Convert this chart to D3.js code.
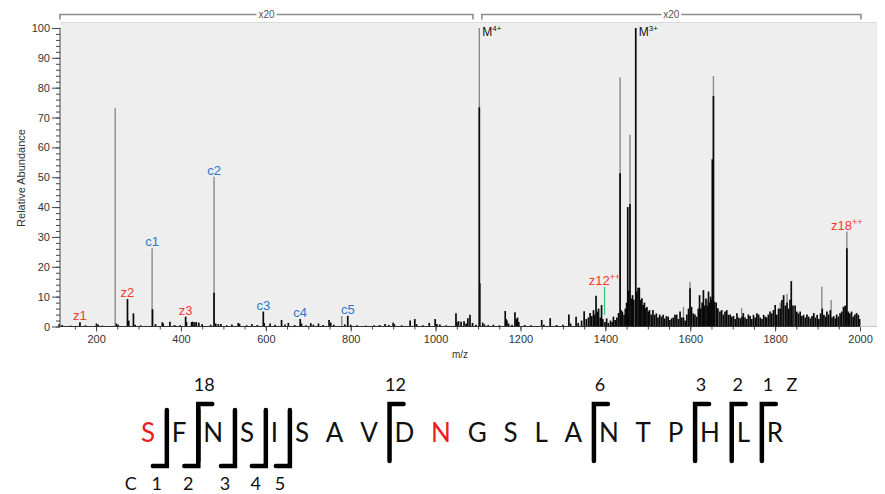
<!DOCTYPE html>
<html><head><meta charset="utf-8">
<script src="https://cdn.jsdelivr.net/npm/d3@7/dist/d3.min.js"></script>
<style>body{margin:0;background:#fff}svg{display:block}</style>
</head><body>
<svg id="c" width="885" height="494"></svg>
<script>
// ---------------- DATA ----------------
// gray-profile peaks [m/z, relative abundance]
const grayPeaks = [
  [245,73.1],[332,26.2],[478,50.2],[779,3.5],[1103,100],[1434.7,83.5],[1458,64.2],
  [1584,6.6],[1599.5,15.0],[1640,9.0],[1721,6.1],[1812,8.0],[1828,11.0],
  [1910,13.3],[1932,8.9],[1963,6.6],[1654.6,83.9],[1969,31.8]
];
// black peaks [m/z, relative abundance]
const blackPeaks = [
  [113,0.8],[120,0.5],[140,0.3],[162,1.4],[175,0.4],[201,1.0],[205,0.6],[215,0.3],[248,1.0],[252,0.6],
  [274,9.2],[277,2.0],[288,4.4],[292,0.6],[305,0.4],[333,5.8],[340,0.8],[356,1.4],[358,1.0],[374,1.6],
  [385,0.5],[398,0.4],[411,3.3],[413,1.5],[425,1.5],[428,1.6],[432,1.4],[436,1.5],[442,1.3],[450,0.8],
  [470,0.6],[478,11.3],[482,1.0],[488,0.8],[494,0.8],[508,0.4],[520,0.7],[535,1.2],[538,0.9],[555,0.4],
  [567,0.8],[580,0.5],[594,5.0],[596,1.2],[610,1.0],[622,0.6],[637,2.2],[645,0.7],[653,1.2],[668,0.5],
  [681,2.5],[684,1.0],[695,0.4],[706,1.1],[712,0.6],[724,1.0],[735,0.5],[749,2.2],[753,1.3],[760,0.6],
  [786,0.7],[793,3.6],[800,0.6],[815,0.4],[835,0.3],[855,0.4],[868,0.5],[881,0.8],[890,0.5],[900,1.3],
  [903,0.7],[920,0.4],[940,2.0],[951,2.5],[955,0.8],[970,0.4],[985,1.2],[999,2.5],[1003,0.8],[1010,0.7],
  [1025,0.4],[1048,4.4],[1050,1.5],[1054,1.8],[1060,1.6],[1067,1.8],[1072,1.0],[1076,2.8],[1081,3.9],[1087,1.2],
  [1095,0.6],[1103,73.4],[1104,14.5],[1111,1.3],[1115,0.7],[1124,0.5],[1136,0.6],[1150,0.4],[1164,5.2],[1166,2.5],
  [1168,2.0],[1172,1.0],[1180,0.6],[1187,4.8],[1190,2.5],[1193,3.0],[1196,1.5],[1210,0.5],[1225,0.4],[1250,2.2],
  [1255,0.6],[1270,2.8],[1285,0.5],[1300,0.6],[1314,4.0],[1318,1.0],[1331,3.3],[1336,1.2],[1344,2.0],[1350,5.1],
  [1355,2.5],[1360,3.0],[1364,4.5],[1368,3.5],[1372,5.5],[1375,4.0],[1378,10.3],[1381,5.0],[1384,6.0],[1388,3.0],
  [1391,7.2],[1394,2.5],[1399,1.5],[1403,2.7],[1407,1.2],[1412,2.0],[1416,1.5],[1419,3.3],[1423,2.2],[1427,3.0],
  [1431,4.5],[1434.7,51.3],[1437,5.5],[1440,5.0],[1444,3.9],[1447,6.0],[1450,8.0],[1452.7,40.0],[1455,12.0],[1458,41.0],
  [1461,9.4],[1464,10.5],[1467,9.0],[1471.6,100],[1474,11.7],[1477,13.0],[1480,13.0],[1483,8.9],[1486,9.5],[1489,7.2],
  [1492,8.0],[1495,6.1],[1498,6.5],[1501,5.0],[1504,5.5],[1508,4.0],[1512,5.5],[1516,3.9],[1520,4.4],[1524,3.0],
  [1528,4.0],[1532,3.3],[1536,3.9],[1540,2.7],[1544,3.5],[1548,3.3],[1552,2.2],[1556,2.7],[1560,3.0],[1564,3.9],
  [1568,4.0],[1572,2.5],[1576,5.0],[1580,3.0],[1584,3.0],[1588,2.0],[1592,4.0],[1596,6.0],[1599.5,12.8],[1603,6.6],
  [1607,4.4],[1611,4.0],[1615,3.3],[1619,6.0],[1622,10.5],[1625,6.0],[1628,8.0],[1631,12.2],[1634,7.0],[1637,9.4],
  [1640,7.0],[1643,11.7],[1646,8.0],[1648,10.0],[1650,9.0],[1652,56],[1654.6,77.2],[1657,8.3],[1661,8.0],[1665,6.1],
  [1670,5.0],[1674,5.5],[1678,4.0],[1682,5.0],[1686,5.5],[1690,3.9],[1694,4.0],[1698,3.3],[1702,3.5],[1706,2.5],
  [1710,4.4],[1714,3.0],[1718,2.7],[1722,3.3],[1725,4.5],[1729,3.0],[1733,2.5],[1737,4.0],[1741,3.5],[1745,2.5],
  [1749,3.9],[1753,3.0],[1757,4.4],[1761,4.0],[1765,3.0],[1769,2.5],[1773,3.9],[1777,3.3],[1780,3.0],[1784,4.0],
  [1788,5.0],[1792,4.4],[1796,5.5],[1800,7.2],[1804,4.0],[1808,6.0],[1812,6.0],[1816,8.9],[1820,10.5],[1824,7.0],
  [1828,8.0],[1832,6.0],[1835,9.0],[1838,15.2],[1842,7.0],[1847,7.0],[1851,5.0],[1855,4.4],[1859,5.0],[1863,3.5],
  [1867,3.9],[1871,3.0],[1875,4.0],[1879,3.3],[1883,2.7],[1887,3.5],[1891,4.5],[1895,3.0],[1899,3.9],[1903,2.5],
  [1907,4.4],[1911,6.0],[1915,3.9],[1919,3.3],[1922,5.0],[1926,4.0],[1930,5.5],[1934,3.0],[1938,3.5],[1942,2.7],
  [1945,4.0],[1949,3.3],[1953,4.4],[1957,5.0],[1961,6.6],[1965,7.0],[1969,26.2],[1972,5.0],[1976,4.4],[1980,5.0],
  [1984,3.3],[1988,4.0],[1992,4.5],[1996,3.9],[1999,2.5]
];
// fragment ion annotations: name, superscript, m/z, abundance of annotated peak, type
const ionNames = ["z1","z2","z3","c1","c2","c3","c4","c5","z12","z18"];
const ionSups  = ["","","","","","","","","++","++"];
const ionMz    = [162,274,411,332,478,594,681,793,1398,1969];
const ionTop   = [1.4,9.2,3.3,26.2,50.2,5.0,2.5,3.6,13.3,31.8];
const ionType  = ["z","z","z","c","c","c","c","c","z","z"];
// precursor labels
const precNames = ["M","M"];
const precSups  = ["4+","3+"];
const precMz    = [1103,1471.6];
const precTop   = [100,100];
// green marker for z12++ (m/z, from, to)
const markerMz = 1398, markerFrom = 3.9, markerTo = 13.3;
// magnification ranges
const zoomRanges = [[115,1088],[1109,2002]];
const zoomLabel = "x20";
// axis ticks
const xMajor = d3.range(200, 2001, 200);
const xMinor = d3.range(150, 2001, 50);
const yMajor = d3.range(0, 101, 10);
const yMinor = d3.range(0, 101, 2);
// peptide sequence
const residues = "SFNSISAVDNGSLANTPHLR".split("");
const redResidues = [0, 9];
const cIons = [1,2,3,4,5];
const zIons = [18,12,6,3,2,1];

// ---------------- CHART ----------------
const svg = d3.select("#c");
const x = d3.scaleLinear().domain([115, 2040]).range([60, 877]);
const y = d3.scaleLinear().domain([0, 102]).range([326.5, 22]);
const AX = "Liberation Sans, Arial, sans-serif";

svg.append("rect").attr("x", 60).attr("y", 22).attr("width", 817).attr("height", y(0) - 22)
  .attr("fill", "#eeeeee");
svg.append("line").attr("x1", 60).attr("x2", 877).attr("y1", 22.5).attr("y2", 22.5)
  .attr("stroke", "#dadada");

// x20 brackets
zoomRanges.forEach(r => {
  const x0 = x(r[0]), x1 = x(r[1]);
  svg.append("path").attr("d", `M${x0},19.5V14.5H${x1}V19.5`)
    .attr("fill", "none").attr("stroke", "#8c8c8c").attr("stroke-width", 1.6);
  const cx = (x0 + x1) / 2;
  svg.append("rect").attr("x", cx - 10).attr("y", 9).attr("width", 20).attr("height", 11).attr("fill", "#fff");
  svg.append("text").attr("x", cx).attr("y", 18).attr("text-anchor", "middle")
    .attr("font-family", AX).attr("font-size", 10).attr("fill", "#555").text(zoomLabel);
});

// peaks
const g = svg.append("g");
g.selectAll("line.gr").data(grayPeaks).join("line")
  .attr("x1", d => x(d[0])).attr("x2", d => x(d[0]))
  .attr("y1", y(0)).attr("y2", d => y(d[1]))
  .attr("stroke", "#8a8a8a").attr("stroke-width", 1.4);
g.selectAll("line.bk").data(blackPeaks).join("line")
  .attr("x1", d => x(d[0])).attr("x2", d => x(d[0]))
  .attr("y1", y(0)).attr("y2", d => y(d[1]))
  .attr("stroke", "#0a0a0a").attr("stroke-width", 1.7);

// green marker
svg.append("line").attr("x1", x(markerMz)).attr("x2", x(markerMz))
  .attr("y1", y(markerFrom)).attr("y2", y(markerTo))
  .attr("stroke", "#3cc878").attr("stroke-width", 1.3);

// axes
const yAx = svg.append("g").attr("transform", "translate(60,0)");
yAx.call(d3.axisLeft(y).tickValues(yMinor).tickSize(4).tickFormat(""));
yAx.select(".domain").remove();
const yAx2 = svg.append("g").attr("transform", "translate(60,0)");
yAx2.call(d3.axisLeft(y).tickValues(yMajor).tickSize(8).tickPadding(2).tickFormat(d3.format("d")));
yAx2.select(".domain").remove();
svg.append("line").attr("x1", 60).attr("x2", 60).attr("y1", y(0)).attr("y2", y(100)).attr("stroke", "#444");
[yAx, yAx2].forEach(a => { a.selectAll("line").attr("stroke", "#444"); });
yAx2.selectAll("text").attr("font-family", AX).attr("font-size", 11).attr("fill", "#333");

const xAx = svg.append("g").attr("transform", `translate(0,${y(0)})`);
xAx.call(d3.axisBottom(x).tickValues(xMinor).tickSize(3).tickFormat(""));
xAx.select(".domain").remove();
const xAx2 = svg.append("g").attr("transform", `translate(0,${y(0)})`);
xAx2.call(d3.axisBottom(x).tickValues(xMajor).tickSize(5).tickPadding(4).tickFormat(d3.format("d")));
xAx2.select(".domain").remove();
[xAx, xAx2].forEach(a => a.selectAll("line").attr("stroke", "#444"));
xAx2.selectAll("text").attr("font-family", AX).attr("font-size", 11).attr("fill", "#333");
svg.append("line").attr("x1", 60).attr("x2", x(2000)).attr("y1", y(0)).attr("y2", y(0)).attr("stroke", "#333").attr("stroke-width", 1.2);
svg.append("line").attr("x1", x(2000)).attr("x2", 877).attr("y1", y(0)).attr("y2", y(0)).attr("stroke", "#c8c8c8");

svg.append("text").attr("transform", "translate(25,178) rotate(-90)").attr("text-anchor", "middle")
  .attr("font-family", AX).attr("font-size", 11).attr("fill", "#333").text("Relative Abundance");
svg.append("text").attr("x", 460).attr("y", 358).attr("text-anchor", "middle")
  .attr("font-family", AX).attr("font-size", 10).attr("fill", "#333").text("m/z");

// ion labels
const ionColor = {c: "#2b78c8", z: "#ee3a2c"};
ionNames.forEach((n, i) => {
  const t = svg.append("text").attr("x", x(ionMz[i])).attr("y", y(ionTop[i]) - 2)
    .attr("text-anchor", "middle").attr("font-family", AX).attr("font-size", 13)
    .attr("fill", ionColor[ionType[i]]);
  t.append("tspan").text(n);
  if (ionSups[i]) t.append("tspan").attr("font-size", 9).attr("dy", -5).text(ionSups[i]);
});
precNames.forEach((n, i) => {
  const t = svg.append("text").attr("x", x(precMz[i]) + 3).attr("y", y(precTop[i]) + 8)
    .attr("font-family", AX).attr("font-size", 12).attr("fill", "#111");
  t.append("tspan").text(n);
  t.append("tspan").attr("font-size", 8).attr("dy", -5).text(precSups[i]);
});

// ---------------- SEQUENCE ----------------
const SF = "Lato, Carlito, 'Open Sans', sans-serif";
const seqG = svg.append("g");
const letters = seqG.selectAll("text").data(residues).join("text")
  .attr("y", 442).attr("text-anchor", "middle").attr("font-family", SF).attr("font-size", 26)
  .attr("fill", (d, i) => redResidues.includes(i) ? "#e8201c" : "#111").text(d => d);
const widths = [];
letters.each(function () { widths.push(this.getComputedTextLength()); });
let half = 0;
for (let i = 1; i < widths.length; i++) half += (widths[i - 1] + widths[i]) / 2;
const startX = 148, endX = 775;
const gap = (endX - startX - half) / (residues.length - 1);
const centers = [startX];
for (let i = 1; i < widths.length; i++) centers.push(centers[i - 1] + (widths[i - 1] + widths[i]) / 2 + gap);
letters.attr("x", (d, i) => centers[i]);
const boundary = i => centers[i] - widths[i] / 2 - 5; // just before residue i

cIons.forEach(n => {
  const bx = boundary(n);
  seqG.append("path").attr("d", `M${bx},410V466H${bx - 14}`).attr("fill", "none")
    .attr("stroke", "#000").attr("stroke-width", 4.5).attr("stroke-linecap", "round");
  seqG.append("text").attr("x", bx - 10).attr("y", 490).attr("text-anchor", "middle")
    .attr("font-family", SF).attr("font-size", 18).attr("fill", "#111").text(n);
});
seqG.append("text").attr("x", boundary(cIons[0]) - 36).attr("y", 490).attr("text-anchor", "middle")
  .attr("font-family", SF).attr("font-size", 18).attr("fill", "#111").text("C");
zIons.forEach(n => {
  const bx = boundary(residues.length - n);
  seqG.append("path").attr("d", `M${bx},461V404H${bx + 14}`).attr("fill", "none")
    .attr("stroke", "#000").attr("stroke-width", 4.5).attr("stroke-linecap", "round");
  seqG.append("text").attr("x", bx + 6).attr("y", 391).attr("text-anchor", "middle")
    .attr("font-family", SF).attr("font-size", 18).attr("fill", "#111").text(n);
});
seqG.append("text").attr("x", boundary(residues.length - 1) + 30).attr("y", 391).attr("text-anchor", "middle")
  .attr("font-family", SF).attr("font-size", 18).attr("fill", "#111").text("Z");
</script>
</body></html>
